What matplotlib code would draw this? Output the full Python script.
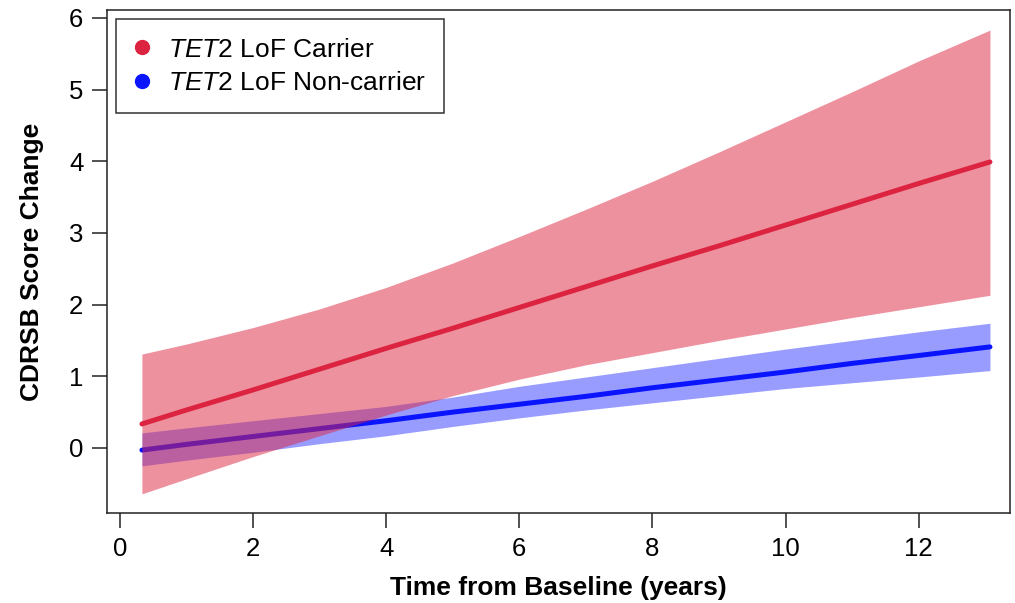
import numpy as np
import matplotlib.pyplot as plt
from matplotlib.lines import Line2D

plt.rcParams['font.family'] = 'Liberation Sans'
plt.rcParams['mathtext.fontset'] = 'custom'
plt.rcParams['mathtext.it'] = 'Liberation Sans:italic'
plt.rcParams['mathtext.rm'] = 'Liberation Sans'

# years from baseline
years = [0.33, 1, 2, 3, 4, 5, 6, 7, 8, 9, 10, 11, 12, 13.07]

# TET2 LoF carrier
carrier_fit = [0.335, 0.53, 0.81, 1.10, 1.39, 1.67, 1.96, 2.25, 2.54, 2.82, 3.11, 3.40, 3.69, 3.99]
carrier_lo = [-0.64, -0.43, -0.12, 0.17, 0.46, 0.73, 0.96, 1.16, 1.33, 1.50, 1.66, 1.82, 1.97, 2.13]
carrier_hi = [1.31, 1.45, 1.68, 1.94, 2.24, 2.58, 2.95, 3.33, 3.72, 4.13, 4.55, 4.97, 5.40, 5.83]

# TET2 LoF non-carrier
noncarrier_fit = [-0.03, 0.05, 0.16, 0.27, 0.38, 0.50, 0.61, 0.72, 0.84, 0.95, 1.06, 1.18, 1.29, 1.41]
noncarrier_lo = [-0.25, -0.17, -0.06, 0.06, 0.17, 0.30, 0.42, 0.53, 0.63, 0.73, 0.83, 0.91, 0.99, 1.08]
noncarrier_hi = [0.21, 0.28, 0.38, 0.48, 0.58, 0.71, 0.86, 0.99, 1.12, 1.25, 1.38, 1.50, 1.62, 1.74]

red = '#DC2440'
blue = '#0A14FF'

fig = plt.figure(figsize=(10.15, 6.03), dpi=100)
ax = fig.add_axes([0.1054, 0.1493, 0.8896, 0.8341])

ax.fill_between(years, noncarrier_lo, noncarrier_hi, color=blue, alpha=0.42, lw=0, zorder=1)
ax.plot(years, noncarrier_fit, color=blue, lw=3.6, solid_capstyle='round', zorder=2)
ax.fill_between(years, carrier_lo, carrier_hi, color=red, alpha=0.5, lw=0, zorder=3)
ax.plot(years, carrier_fit, color=red, lw=3.6, solid_capstyle='round', zorder=4)

ax.set_xlim(-0.195, 13.37)
ax.set_ylim(-0.907, 6.11)
ax.set_xticks([0, 2, 4, 6, 8, 10, 12])
ax.set_yticks([0, 1, 2, 3, 4, 5, 6])
ax.tick_params(axis='both', length=11, width=1.1, labelsize=18.5, color='#222222', pad=6)
for s in ax.spines.values():
    s.set_linewidth(1.1)
    s.set_color('#222222')

ax.set_xlabel('Time from Baseline (years)', fontsize=19, fontweight='bold', labelpad=11)
ax.set_ylabel('CDRSB Score Change', fontsize=19, fontweight='bold', labelpad=18)

handles = [
    Line2D([], [], ls='none', marker='o', ms=10, color=red),
    Line2D([], [], ls='none', marker='o', ms=10, color=blue),
]
labels = [r'$\mathit{TET2}$ LoF Carrier', r'$\mathit{TET2}$ LoF Non-carrier']
leg = ax.legend(handles, labels, loc='upper left', fontsize=19, frameon=True,
                fancybox=False, borderaxespad=0.35, handletextpad=0.7,
                borderpad=0.7, labelspacing=0.35, handlelength=0.55)
leg.get_frame().set_edgecolor('black')
leg.get_frame().set_linewidth(1.1)

fig.savefig('out.png', dpi=100)
